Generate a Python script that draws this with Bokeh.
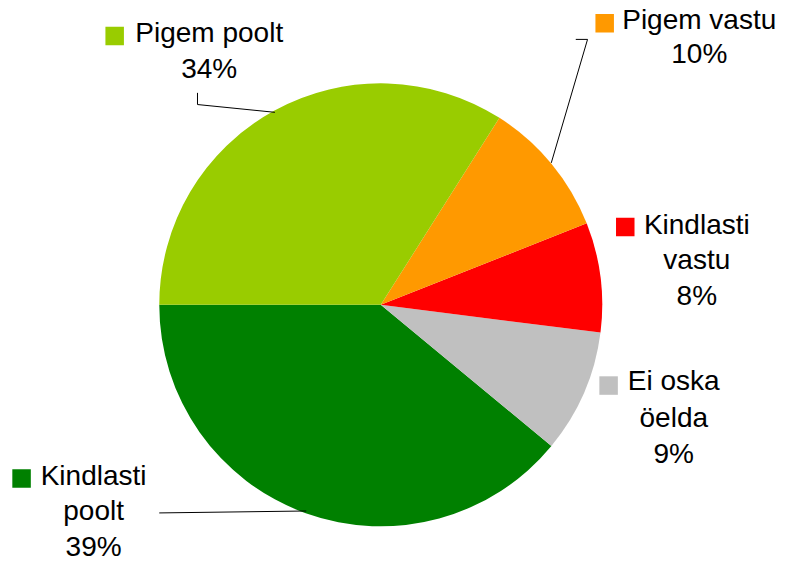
import math
from bokeh.plotting import figure
from bokeh.models import Range1d, ColumnDataSource
from bokeh.core.properties import value
from bokeh.embed import file_html
from bokeh.resources import INLINE

# ---- data ----
categories = ["Kindlasti poolt", "Ei oska öelda", "Kindlasti vastu", "Pigem vastu", "Pigem poolt"]
percent = [39, 9, 8, 10, 34]
colors = ["#008000", "#C0C0C0", "#FF0000", "#FF9900", "#99CC00"]
label_lines = [["Kindlasti", "poolt"], ["Ei oska", "öelda"], ["Kindlasti", "vastu"], ["Pigem vastu"], ["Pigem poolt"]]

# ---- layout (reference pixel coordinates, y down) ----
W, H = 801, 579
cx, cy, R = 388, 313, 226
# per category: (text center x, first baseline y, line spacing, square center x, square center y)
label_pos = {
    "Kindlasti poolt": (95, 500, 37, 21.5, 491.5),
    "Ei oska öelda": (687, 403, 37.5, 620.5, 396),
    "Kindlasti vastu": (710.5, 242, 36.5, 637.5, 233),
    "Pigem vastu": (713, 32, 35, 616.5, 23.5),
    "Pigem poolt": (213, 45, 37, 116.5, 36.5),
}
leaders = {
    "Kindlasti poolt": [(162, 527), (312, 525)],
    "Pigem vastu": [(587, 40), (599, 40), (562, 167)],
    "Pigem poolt": [(201, 95), (201, 107), (280, 115)],
}
BASELINE_FIX = 12  # compensates the renderer's baseline placement

def Y(y):
    return H - y

p = figure(width=785, height=563, output_backend="svg", toolbar_location=None,
           x_range=Range1d(0, W), y_range=Range1d(0, H),
           min_border=0, outline_line_color=None)
p.axis.visible = False
p.grid.visible = False
p.background_fill_color = "white"
p.border_fill_color = "white"

total = sum(percent)
starts, ends = [], []
acc = 0.0
for v in percent:
    starts.append(math.pi + 2 * math.pi * acc / total)
    acc += v
    ends.append(math.pi + 2 * math.pi * acc / total)

src = ColumnDataSource(dict(start=starts, end=ends, color=colors))
p.wedge(x=cx, y=Y(cy), radius=R, start_angle="start", end_angle="end",
        fill_color="color", line_color=None, source=src)

# leader lines
for cat, pts in leaders.items():
    p.line([q[0] for q in pts], [Y(q[1]) for q in pts], line_color="black", line_width=1)

# labels
tx, ty, tt = [], [], []
sx, sy, sc = [], [], []
for cat, lines, v, col in zip(categories, label_lines, percent, colors):
    x0, b0, dy, qx, qy = label_pos[cat]
    all_lines = lines + [f"{v}%"]
    for i, ln in enumerate(all_lines):
        tx.append(x0)
        ty.append(Y(b0 + i * dy - BASELINE_FIX))
        tt.append(ln)
    sx.append(qx); sy.append(Y(qy)); sc.append(col)

p.text(x=tx, y=ty, text=tt, text_font=value("Liberation Sans"), text_font_size="28px",
       text_align="center", text_baseline="alphabetic", text_color="black")
p.scatter(x=sx, y=sy, marker="square", size=18.5, fill_color=sc, line_color=None)

open("out.html", "w").write(file_html(p, INLINE))
